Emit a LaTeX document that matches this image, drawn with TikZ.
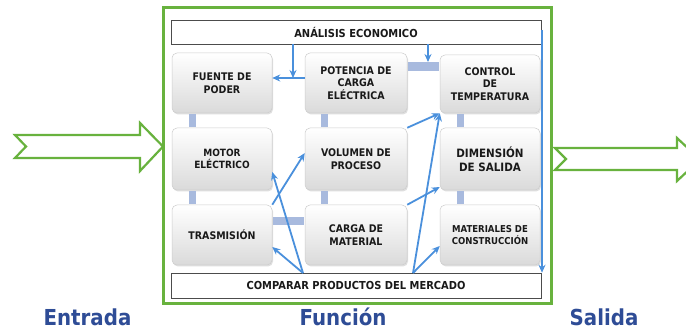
\documentclass[tikz,border=0pt]{standalone}
\usepackage{fontspec}
\setmainfont{DejaVu Sans}
\newfontfamily\boxfont[FakeStretch=0.9]{DejaVu Sans}
\usetikzlibrary{shadows,arrows.meta,calc}
\definecolor{frgreen}{RGB}{104,178,62}
\definecolor{arrblue}{RGB}{74,144,220}
\definecolor{barblue}{RGB}{168,186,222}
\definecolor{labblue}{RGB}{46,76,150}
\definecolor{boxgray}{RGB}{218,218,218}
\definecolor{boxline}{RGB}{205,205,205}
\begin{document}
\begin{tikzpicture}[x=1pt,y=-1pt,
  blk/.style={rounded corners=5pt, draw=boxline, line width=0.5pt,
    top color=white, bottom color=boxgray,
    drop shadow={shadow xshift=1pt,shadow yshift=-1.5pt,opacity=0.25},
    align=center, inner sep=1pt, text=black!90,
    font=\boxfont\bfseries\fontsize{10.5}{12.5}\selectfont},
  wide/.style={draw=black!70, line width=0.5pt, fill=white, align=center,
    minimum width=370, minimum height=24, inner sep=0pt, text=black!90,
    font=\boxfont\bfseries\fontsize{11}{13}\selectfont},
  barconn/.style={draw=barblue, line width=7pt},
  conn/.style={draw=arrblue, line width=1.8pt, -{Stealth[length=8pt,width=7pt]}},
  lab/.style={text=labblue, anchor=base, inner sep=0pt,
    font=\boxfont\bfseries\fontsize{22}{24}\selectfont},
  bigarrow/.style={draw=frgreen, line width=2.2pt, fill=white, line join=miter}
]
\fill[white] (0,0) rectangle (686,331);
\useasboundingbox (0,0) rectangle (686,331);

% green frame
\node[draw=frgreen, line width=3pt, minimum width=388, minimum height=296, inner sep=0pt] (frame) at (357,156) {};

% green input/output arrows
\begin{scope}
\clip (0,0) rectangle (686,331);
\draw[bigarrow] (15,135) -- (140,135) -- (140,123) -- (163,146.5) -- (140,171) -- (140,158) -- (15,158) -- (26,146.5) -- cycle;
\draw[bigarrow] (555,148) -- (677,148) -- (677,138) -- (700,159.5) -- (677,181) -- (677,170) -- (555,170) -- (566,159) -- cycle;
\end{scope}

% wide boxes
\node[wide] (ana) at (356,32) {ANÁLISIS ECONOMICO};
\node[wide, minimum height=25] (comp) at (356,285.5) {COMPARAR PRODUCTOS DEL MERCADO};

% coordinates for free ends
\coordinate (j1) at (293,78);
\coordinate (j2) at (428,62);
\coordinate (cA) at (303,273);
\coordinate (cB) at (413,273);
\coordinate (rt) at (542,30);

% grid boxes
\node[blk, minimum width=100, minimum height=60] (fuente) at (222,83) {FUENTE DE\\PODER};
\node[blk, minimum width=102, minimum height=60] (pot) at (356,83) {POTENCIA DE\\CARGA\\ELÉCTRICA};
\node[blk, minimum width=100, minimum height=58] (ctrl) at (490,84) {CONTROL\\DE\\TEMPERATURA};
\node[blk, minimum width=100, minimum height=62, font=\boxfont\bfseries\fontsize{10}{12}\selectfont] (motor) at (222,159) {MOTOR\\ELÉCTRICO};
\node[blk, minimum width=102, minimum height=62] (vol) at (356,159) {VOLUMEN DE\\PROCESO};
\node[blk, minimum width=100, minimum height=62, font=\boxfont\bfseries\fontsize{11.5}{14}\selectfont] (dim) at (490,159) {DIMENSIÓN\\DE SALIDA};
\node[blk, minimum width=100, minimum height=60] (tras) at (222,235) {TRASMISIÓN};
\node[blk, minimum width=102, minimum height=60] (carga) at (356,235) {CARGA DE\\MATERIAL};
\node[blk, minimum width=100, minimum height=60, font=\boxfont\bfseries\fontsize{9.5}{12}\selectfont] (mat) at (490,235) {MATERIALES DE\\CONSTRUCCIÓN};

% bar connectors
\draw[barconn] ($(fuente.south west)+(21,1)$) -- ($(motor.north west)+(21,-1)$);
\draw[barconn] ($(motor.south west)+(21,1)$) -- ($(tras.north west)+(21,-1)$);
\draw[barconn] ($(pot.south west)+(20,1)$) -- ($(vol.north west)+(20,-1)$);
\draw[barconn] ($(vol.south west)+(20,1)$) -- ($(carga.north west)+(20,-1)$);
\draw[barconn] ($(ctrl.south west)+(21,1)$) -- ($(dim.north west)+(21,-1)$);
\draw[barconn] ($(dim.south west)+(21,1)$) -- ($(mat.north west)+(21,-1)$);
\draw[barconn, line width=9pt] ($(pot.east)+(1,-16)$) -- ($(ctrl.west)+(-1,-17)$);
\draw[barconn, line width=8pt] ($(tras.east)+(1,-14)$) -- ($(carga.west)+(-1,-14)$);

% blue arrows
\draw[conn] (ana.south -| j1) -- (j1);
\draw[conn] (pot.west |- j1) -- (fuente.east |- j1);
\draw[conn] (ana.south -| j2) -- (j2);
\draw[conn] (vol.north east) -- (ctrl.south west);
\draw[conn] (cB) -- (ctrl.south west);
\draw[conn] (cB) -- ($(mat.west)+(0,11)$);
\draw[conn] (carga.north east) -- ($(dim.west)+(0,28)$);
\draw[conn] (tras.north east) -- ($(vol.west)+(0,-6)$);
\draw[conn] (cA) -- ($(tras.east)+(0,12)$);
\draw[conn] (cA) -- ($(motor.east)+(0,13)$);
\draw[conn] (rt) -- (rt |- comp.north);

% labels
\node[lab] (lin) at (87.5,325.5) {Entrada};
\node[lab] (lfun) at (343,325.5) {Función};
\node[lab] (lout) at (604,325.5) {Salida};
\end{tikzpicture}
\end{document}
